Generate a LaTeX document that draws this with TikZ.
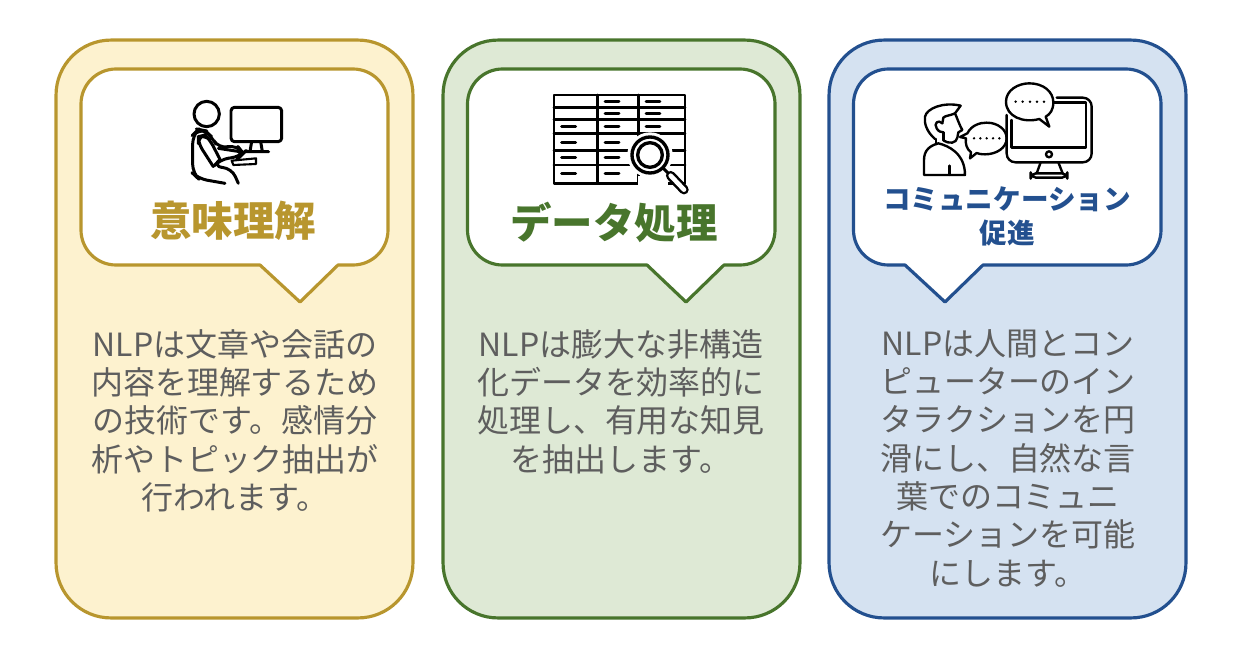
\documentclass[tikz,border=0pt]{standalone}
\usepackage{fontspec}
\setmainfont{Noto Sans CJK JP}
\usepackage{tikz}
\usetikzlibrary{positioning}
\definecolor{goldline}{HTML}{B8962E}
\definecolor{goldfill}{HTML}{FDF2CF}
\definecolor{greenline}{HTML}{48752C}
\definecolor{greenfill}{HTML}{DEE9D5}
\definecolor{blueline}{HTML}{23508F}
\definecolor{bluefill}{HTML}{D5E2F1}
\definecolor{bodygray}{HTML}{5E5E5E}
\tikzset{
    panel/.style={rectangle,draw=#1,line width=1.8pt,rounded corners=1.1cm,minimum width=7.14cm,minimum height=11.56cm,inner sep=0pt},
    bubble/.style={draw=#1,fill=white,line width=1.8pt,line join=round},
    heading/.style={font=\bfseries\fontsize{#1}{#1}\selectfont,inner sep=0pt},
    bodytext/.style={text=bodygray,align=center,inner sep=0pt,font=\fontsize{18.2}{21.8}\selectfont},
    icon/.style={line width=1.7pt,line cap=round,line join=round},
    thinicon/.style={line width=1.35pt,line cap=round,line join=round}
}
\begin{document}
\begin{tikzpicture}[x=0.02cm,y=-0.02cm]
    \useasboundingbox (0,0) rectangle (1238,656);
    % Panels
    \node[panel=goldline,fill=goldfill] (meaningpanel) at (234.5,329) {};
    \node[panel=greenline,fill=greenfill] (datapanel) at (621.5,329) {};
    \node[panel=blueline,fill=bluefill] (commpanel) at (1007.5,329) {};

    % Speech bubbles
    \draw[bubble=goldline,rounded corners=0.7cm] (260,265) -- (81,265) -- (81,69) -- (388,69) -- (388,265) [sharp corners] -- (338,265) -- (300,302) -- cycle;
    \draw[bubble=greenline,rounded corners=0.7cm] (647,265) -- (467.5,265) -- (467.5,69) -- (775,69) -- (775,265) [sharp corners] -- (724,265) -- (686,302) -- cycle;
    \draw[bubble=blueline,rounded corners=0.7cm] (905,265) -- (853.5,265) -- (853.5,69) -- (1161,69) -- (1161,265) [sharp corners] -- (983,265) -- (945,302) -- cycle;

    % Person at a computer
    \begin{scope}[shift={(170,90)},x=0.00667cm,y=-0.00667cm,icon]
        \draw (110,72) circle (38);
        \draw[rounded corners=2pt] (183,52) rectangle (335,155);
        \draw (245,155) -- (240,184) (272,155) -- (277,184) (224,185) -- (296,185);
        \draw[rounded corners=5pt] (165,280) -- (85,266) -- (68,250) -- (68,135) -- (85,118) -- (105,122) -- (125,140) -- (145,175) -- (200,165) -- (220,190) -- (210,200) -- (150,208) -- (130,230) -- (185,235) -- (205,280);
        \draw[rounded corners=4pt] (130,230) -- (85,160) -- (85,140) -- (105,135) -- (120,150) -- (150,208);
        \draw (145,175) -- (210,185);
        \draw[line width=1.2pt] (185,212) -- (258,205) -- (258,222) -- (190,225) -- cycle;
    \end{scope}

    % Table with magnifier
    \begin{scope}[shift={(540,85)},x=0.00667cm,y=-0.00667cm,icon]
        \draw (42,30) rectangle (435,295);
        \draw (172,30) -- (172,295) (295,30) -- (295,295);
        \foreach \rowy in {67,103,145,197,240} \draw (42,\rowy) -- (435,\rowy);
        \foreach \dashx/\dashy in {195/50,318/50,195/85,318/85,65/125,195/125,318/125,65/172,195/172,65/218,195/218,65/265,195/265} \draw (\dashx,\dashy) -- ++(42,0);
        \fill[white] (330,210) circle (68);
        \fill[white] (295,272) rectangle (385,305);
        \draw[line width=1.9pt] (330,210) circle (54) (330,210) circle (37);
        \draw (368,248) -- (388,268);
        \draw[line width=5.4pt] (392,272) -- (432,314);
        \draw[white,line width=2.6pt] (392,272) -- (432,314);
    \end{scope}

    % Person talking to a monitor
    \begin{scope}[shift={(910,75)},x=0.00667cm,y=-0.00667cm,thinicon]
        \draw[rounded corners=5pt] (440,68) -- (545,68) -- (545,262) -- (290,262) -- (290,120);
        \draw (432,82) -- (528,82) -- (528,218) -- (305,218) -- (305,135);
        \draw (417,238) circle (9);
        \draw (392,262) -- (380,295) (445,262) -- (458,295);
        \draw[rounded corners=3pt] (362,295) rectangle (472,308);
        \draw (388,132) .. controls (340,145) and (288,125) .. (288,80) .. controls (288,45) and (325,25) .. (358,25) .. controls (400,25) and (430,50) .. (430,82) .. controls (430,105) and (420,118) .. (407,125) -- (418,155) -- cycle;
        \draw (183,232) .. controls (170,222) and (165,205) .. (168,190) -- (150,186) -- (172,175) .. controls (185,150) and (210,143) .. (230,143) .. controls (265,143) and (290,165) .. (290,190) .. controls (290,218) and (260,238) .. (225,238) .. controls (212,238) and (205,236) .. (200,234) -- (180,250) -- cycle;
        \foreach \dotx in {317,338,360,381,402} \fill (\dotx,80) circle (4.2);
        \foreach \dotx in {192,211,230,249,268} \fill (\dotx,190) circle (4);
        % head and hair
        \draw (75,192) .. controls (50,170) and (42,145) .. (45,125) .. controls (50,100) and (100,80) .. (152,92) -- (135,115) .. controls (142,130) and (148,150) .. (157,165) -- (145,172) -- (142,188) .. controls (138,205) and (120,208) .. (100,196);
        \draw (135,115) .. controls (120,122) and (105,122) .. (100,128) -- (97,145);
        \draw (78,192) -- (78,208) (100,172) -- (100,196);
        \draw (97,145) .. controls (85,132) and (70,145) .. (80,160) .. controls (85,170) and (95,172) .. (100,172);
        % shoulders
        \draw (42,300) -- (42,255) .. controls (42,225) and (60,212) .. (85,205) .. controls (115,212) and (165,235) .. (165,300) -- cycle;
        \draw (118,272) -- (118,300);
    \end{scope}

    % Headings
    \node[heading=23.6pt,text=goldline] (meaningtitle) at (233,221) {意味理解};
    \node[heading=23.6pt,text=greenline] (datatitle) at (614,222) {データ処理};
    \node[heading=15.7pt,text=blueline] (commtitle) at (1007,199) {コミュニケーション};
    \node[heading=15.7pt,text=blueline,below=4.5pt of commtitle] (commsub) {促進};

    % Body text
    \node[bodytext,anchor=north] (meaningtext) at (235,329) {NLPは文章や会話の\\内容を理解するため\\の技術です。感情分\\析やトピック抽出が\\行われます。};
    \node[bodytext,anchor=north] (datatext) at (621,329) {NLPは膨大な非構造\\化データを効率的に\\処理し、有用な知見\\を抽出します。};
    \node[bodytext,anchor=north] (commtext) at (1008,329) {NLPは人間とコン\\ピューターのイン\\タラクションを円\\滑にし、自然な言\\葉でのコミュニ\\ケーションを可能\\にします。};
\end{tikzpicture}
\end{document}
